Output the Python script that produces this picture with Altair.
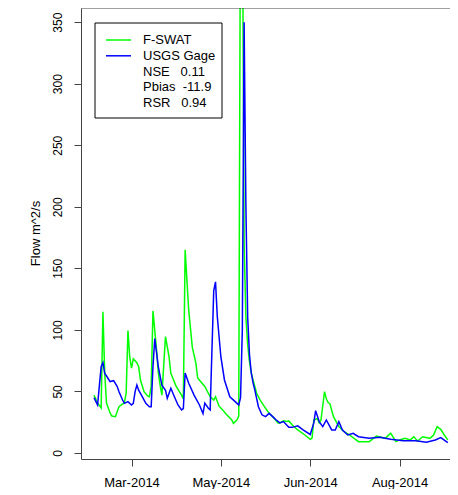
import altair as alt
import pandas as pd

# ---- data ----
start_date = "2014-02-27"
series_names = ["F-SWAT", "USGS Gage"]
series_colors = ["#00ff00", "#0000ff"]

fswat_days = [0, 2, 4, 5, 6, 7, 9, 10, 12, 13, 14, 16, 17, 18, 19, 20, 21, 22, 24, 25,
              26, 28, 30, 31, 32, 33, 35, 36, 37, 38, 40, 42, 43, 46, 49, 50, 51, 53, 55, 57,
              58, 62, 64, 65, 67, 68, 70, 72, 74, 77, 78, 80, 81, 82, 83, 84, 85, 86, 87, 88,
              89, 91, 93, 96, 98, 100, 103, 104, 106, 108, 109, 111, 114, 118, 121, 122, 123, 125, 126, 127,
              129, 130, 131, 132, 134, 137, 140, 143, 148, 154, 158, 163, 166, 169, 171, 174, 177, 179, 181, 184,
              188, 190, 192, 194, 196, 198]
fswat_flow = [47, 40.6, 36.5, 114.8, 65, 40.6, 32.5, 30, 29.5, 33.6, 37.6, 39.8, 40.6, 48.7, 99.4, 78, 69, 76.4, 73.4, 70,
              59.3, 49.8, 46.3, 45.7, 53.9, 115.4, 83.7, 65, 55.2, 47, 94.5, 78, 64.7, 54, 47, 44, 165, 116, 86, 73,
              61, 54, 48.5, 45.7, 43, 45.7, 38, 35, 31.5, 27, 24, 27, 30, 480, 470, 170, 110, 88, 74, 65,
              59.3, 48.5, 43, 36.3, 32.2, 29.5, 24.4, 24.4, 26.2, 25.5, 26, 22.7, 18.7, 14.6, 11, 12, 26.8, 28, 24.4, 26.8,
              49.8, 44, 41, 40, 29.5, 21.4, 17.3, 14.6, 9.2, 9.2, 13.8, 11.9, 16, 9.2, 10.6, 11.9, 10.6, 13.2, 9.7, 13.2,
              11.9, 14.6, 21.4, 19.2, 14.6, 10.6]

usgs_days = [0, 2, 4, 5, 6, 7, 9, 11, 13, 14, 16, 17, 19, 21, 22, 23, 24, 25, 27, 29,
             31, 32, 33, 34, 36, 38, 40, 41, 43, 45, 47, 49, 50, 51, 53, 56, 59, 61, 62, 64,
             65, 67, 68, 69, 71, 73, 76, 79, 81, 82, 83, 84, 85, 86, 87, 88, 89, 90, 92, 94,
             96, 98, 100, 102, 104, 106, 109, 111, 114, 117, 121, 123, 124, 126, 128, 130, 133, 135, 137, 139,
             142, 145, 148, 154, 160, 166, 173, 180, 186, 191, 194, 198]
usgs_flow = [45, 39, 70, 73.4, 64.7, 62.5, 58, 58.7, 53.9, 49.8, 43, 40.3, 41.7, 39, 40.3, 49.8, 55.2, 51, 45.7, 40.3,
             37.6, 37.6, 70, 93, 70, 55, 51, 44.4, 52.6, 45.7, 39, 35, 36, 65, 56.6, 47, 39, 32, 40.5, 36.3,
             35, 132, 139, 110.7, 78, 59.3, 45.7, 41.7, 39, 45, 100, 350, 200, 110, 80, 65, 57, 51, 37.6, 31,
             29.5, 32.2, 29.5, 26.8, 24.4, 25.5, 20.8, 20.8, 22, 18.7, 15, 24.4, 34.4, 25.5, 21.4, 26.8, 18.7, 18.7, 25.5, 18.7,
             14.6, 16, 13.2, 11.9, 12.7, 11.1, 10, 10, 8.7, 10.6, 12.5, 8.4]

stats_labels = ["NSE\u00a0\u00a0\u00a00.11", "Pbias\u00a0\u00a0-11.9", "RSR\u00a0\u00a0\u00a00.94"]
tick_dates = ["2014-03-20", "2014-05-09", "2014-06-28", "2014-08-17"]
y_ticks = [0, 50, 100, 150, 200, 250, 300, 350]
y_label = "Flow m^2/s"

# ---- build table ----
start = pd.Timestamp(start_date)
frames = []
for name, days, flow in [(series_names[0], fswat_days, fswat_flow),
                         (series_names[1], usgs_days, usgs_flow)]:
    d = pd.DataFrame({"day": days, "flow": flow})
    d["series"] = name
    frames.append(d)
df = pd.concat(frames, ignore_index=True)
df["date"] = (start + pd.to_timedelta(df["day"], unit="D")).dt.strftime("%Y-%m-%dT%H:%M:%S")


def to_dt(ts):
    ts = pd.Timestamp(ts)
    return alt.DateTime(year=ts.year, month=ts.month, date=ts.day,
                        hours=ts.hour, minutes=ts.minute)


x_left = start - pd.Timedelta(days=7.27)
x_right = start + pd.Timedelta(days=199.2)

W, H = 369, 451
FONT = "Liberation Sans"
AX = "#444"

lines = alt.Chart(df).mark_line(strokeWidth=1.5, clip=True).encode(
    x=alt.X("date:T",
            scale=alt.Scale(domain=[to_dt(x_left), to_dt(x_right)], nice=False),
            axis=alt.Axis(values=[to_dt(t) for t in tick_dates], format="%b-%Y", title=None,
                          grid=False, tickSize=7, labelPadding=10, labelFontSize=13,
                          labelFlush=False, labelOverlap=False)),
    y=alt.Y("flow:Q",
            scale=alt.Scale(domain=[-4.9, 361.5], nice=False, zero=False),
            axis=alt.Axis(values=y_ticks, title=y_label, grid=False, tickSize=7,
                          labelAngle=270, labelAlign="center", labelBaseline="middle",
                          labelPadding=17, labelFontSize=12, labelOverlap=False,
                          titleFontSize=13, titleFontWeight="normal", titleAngle=270,
                          titleX=-46, titleY=225, titleAlign="center", titleBaseline="middle")),
    color=alt.Color("series:N",
                    scale=alt.Scale(domain=series_names, range=series_colors),
                    legend=None),
)

one = pd.DataFrame({"k": [0]})

frame_top = alt.Chart(one).mark_rule(color=AX, strokeWidth=1).encode(
    x=alt.value(0), x2=alt.value(W), y=alt.value(0)
)

# ---- legend box (drawn by hand to match R's legend()) ----
legend_layers = [
    alt.Chart(one).mark_rect(fill="white", stroke="black", strokeWidth=1).encode(
        x=alt.value(14), x2=alt.value(141), y=alt.value(15), y2=alt.value(110))
]
row_y = [32, 47.8, 63.6, 79.4, 95.2]
legend_texts = series_names + stats_labels
for i, (name, col) in enumerate(zip(series_names, series_colors)):
    legend_layers.append(
        alt.Chart(one).mark_rule(color=col, strokeWidth=1.5).encode(
            x=alt.value(25), x2=alt.value(50), y=alt.value(row_y[i])))
for i, txt in enumerate(legend_texts):
    legend_layers.append(
        alt.Chart(one).mark_text(align="left", baseline="middle", fontSize=13,
                                 font=FONT, color="black").encode(
            x=alt.value(62), y=alt.value(row_y[i]), text=alt.value(txt)))

chart = alt.layer(lines, frame_top, *legend_layers).properties(
    width=W, height=H,
    autosize=alt.AutoSizeParams(type="none"),
    padding={"left": 73, "top": 0, "right": 0, "bottom": 30},
).configure_view(stroke=None).configure_axis(
    domainColor=AX, tickColor=AX, labelColor="black", titleColor="black",
    labelFont=FONT, titleFont=FONT,
)

chart.save("out.html", embed_options={"renderer": "svg", "actions": False})
